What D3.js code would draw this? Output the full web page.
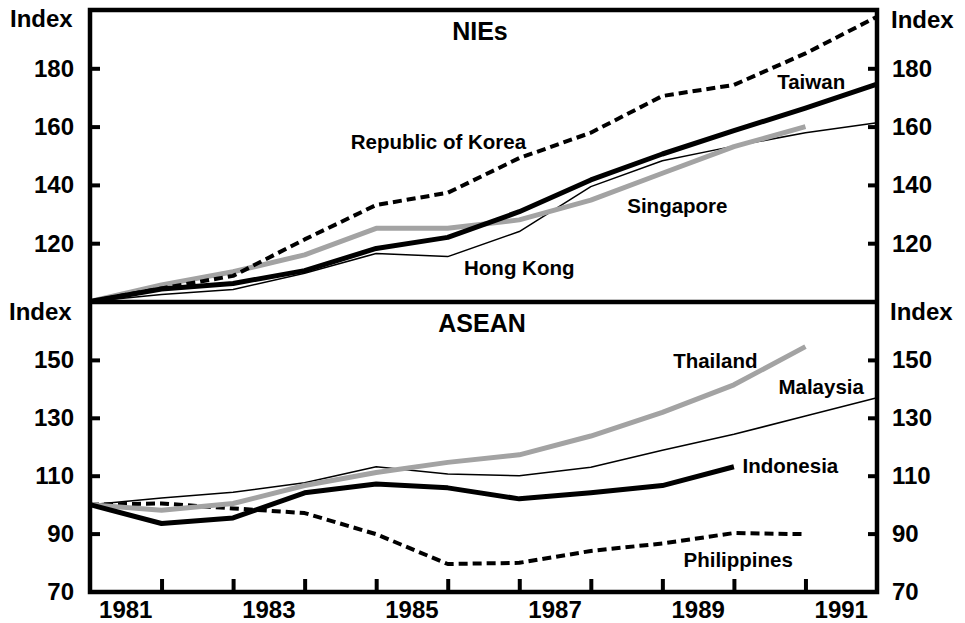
<!DOCTYPE html>
<html>
<head>
<meta charset="utf-8">
<script src="https://cdn.jsdelivr.net/npm/d3@7"></script>
<style>
  html, body { margin: 0; padding: 0; background: #fff; }
  svg { display: block; font-family: "Liberation Sans", Arial, Helvetica, sans-serif; font-weight: bold; }
</style>
</head>
<body>
<svg id="chart" width="965" height="623"></svg>
<script>
// ---- data ----
const years = [1980, 1981, 1982, 1983, 1984, 1985, 1986, 1987, 1988, 1989, 1990, 1991];
const yearLabels = [1981, 1983, 1985, 1987, 1989, 1991];

// NIEs
const korea     = [100, 104.5, 108.8, 121.3, 133.1, 137.3, 149.2, 157.9, 170.5, 174.3, 185.1, 197.7];
const taiwan    = [100, 104.3, 106.2, 110.6, 118.2, 122.0, 130.8, 141.7, 150.6, 158.6, 166.3, 174.6];
const singapore = [100, 105.7, 110.2, 116.0, 125.1, 125.1, 128.0, 134.8, 144.0, 153.1, 160.0];
const hongkong  = [100, 102.4, 104.1, 109.7, 116.5, 115.4, 124.0, 139.4, 148.3, 153.3, 157.9, 161.3];

// ASEAN
const indonesia   = [100, 93.5, 95.4, 104.1, 107.1, 105.8, 102.0, 104.1, 106.6, 113.1];
const malaysia    = [100, 102.3, 104.3, 107.6, 113.1, 110.6, 110.0, 112.9, 118.8, 124.3, 130.6, 136.9];
const thailand    = [100, 98.1, 100.4, 106.6, 111.1, 114.6, 117.2, 123.7, 131.9, 141.4, 154.6];
const philippines = [100, 100.4, 98.7, 97.1, 89.8, 79.5, 79.9, 84.0, 86.6, 90.2, 89.8];

const nieTicks = [120, 140, 160, 180];
const aseanTicks = [70, 90, 110, 130, 150];

// ---- layout ----
const svg = d3.select("#chart");
const pLeft = 90, pRight = 877, pTop = 10, pMid = 302, pBottom = 592;
const grey = "#a3a3a3";

const x = d3.scaleLinear().domain([1980, 1991]).range([pLeft, pRight]);
const yTop = d3.scaleLinear().domain([100, 200]).range([pMid - 0.5, pTop]);
const yBot = d3.scaleLinear().domain([70, 170]).range([pBottom - 0.5, pMid]);

const styles = {
  thick:  { stroke: "#000", width: 5, dash: null },
  grey:   { stroke: grey, width: 5, dash: null },
  thin:   { stroke: "#000", width: 1.5, dash: null },
  dashed: { stroke: "#000", width: 4, dash: "9,5" }
};

function drawSeries(values, yScale, st) {
  const pts = values.map((v, i) => [years[i], v]);
  const line = d3.line().x(d => x(d[0])).y(d => yScale(d[1]));
  svg.append("path")
    .attr("d", line(pts))
    .attr("fill", "none")
    .attr("stroke", st.stroke)
    .attr("stroke-width", st.width)
    .attr("stroke-linejoin", "round")
    .attr("stroke-dasharray", st.dash);
}

// upper panel
drawSeries(hongkong, yTop, styles.thin);
drawSeries(singapore, yTop, styles.grey);
drawSeries(taiwan, yTop, styles.thick);
drawSeries(korea, yTop, styles.dashed);

// lower panel
drawSeries(malaysia, yBot, styles.thin);
drawSeries(philippines, yBot, styles.dashed);
drawSeries(thailand, yBot, styles.grey);
drawSeries(indonesia, yBot, styles.thick);

// ---- axes ----
function yAxes(yScale, ticks) {
  const inner = ticks.filter(t => t > yScale.domain()[0]);
  const gl = svg.append("g").attr("transform", `translate(${pLeft},0)`)
    .call(d3.axisRight(yScale).tickValues(inner).tickSize(10).tickFormat(""));
  const gr = svg.append("g").attr("transform", `translate(${pRight},0)`)
    .call(d3.axisLeft(yScale).tickValues(inner).tickSize(9).tickFormat(""));
  [gl, gr].forEach(g => {
    g.select(".domain").remove();
    g.selectAll("line").attr("stroke", "#000").attr("stroke-width", 4);
  });
  ticks.forEach(t => {
    svg.append("text").attr("x", pLeft - 16).attr("y", yScale(t) + 8.5)
      .attr("text-anchor", "end").attr("font-size", 24).text(t);
    svg.append("text").attr("x", pRight + 15).attr("y", yScale(t) + 8.5)
      .attr("text-anchor", "start").attr("font-size", 24).text(t);
  });
}
yAxes(yTop, nieTicks);
yAxes(yBot, aseanTicks);

// bottom x ticks (inside)
const gx = svg.append("g").attr("transform", `translate(0,${pBottom})`)
  .call(d3.axisTop(x).tickValues(years.slice(1, 11)).tickSize(13).tickFormat(""));
gx.select(".domain").remove();
gx.selectAll("line").attr("stroke", "#000").attr("stroke-width", 4);

yearLabels.forEach(yr => {
  svg.append("text").attr("x", x(yr - 0.5)).attr("y", 618)
    .attr("text-anchor", "middle").attr("font-size", 24).text(yr);
});

// frame
svg.append("rect").attr("x", pLeft).attr("y", pTop).attr("width", pRight - pLeft).attr("height", pBottom - pTop)
  .attr("fill", "none").attr("stroke", "#000").attr("stroke-width", 4.5);
svg.append("line").attr("x1", pLeft).attr("x2", pRight).attr("y1", pMid).attr("y2", pMid)
  .attr("stroke", "#000").attr("stroke-width", 4.5);

// Index labels
svg.append("text").attr("x", 10).attr("y", 27).attr("font-size", 24).text("Index");
svg.append("text").attr("x", 9).attr("y", 320).attr("font-size", 24).text("Index");
svg.append("text").attr("x", 891).attr("y", 28).attr("font-size", 24).text("Index");
svg.append("text").attr("x", 890).attr("y", 320).attr("font-size", 24).text("Index");

// panel titles
svg.append("text").attr("x", x(1985.45)).attr("y", yTop(189.7)).attr("text-anchor", "middle").attr("font-size", 25).text("NIEs");
svg.append("text").attr("x", x(1985.48)).attr("y", yBot(159.5)).attr("text-anchor", "middle").attr("font-size", 25).text("ASEAN");

// series labels (anchored in data units)
const labels = [
  ["Republic of Korea", 1984.87, 152.3, yTop],
  ["Taiwan", 1990.08, 172.9, yTop],
  ["Singapore", 1988.21, 130.4, yTop],
  ["Hong Kong", 1986.0, 109.1, yTop],
  ["Thailand", 1988.74, 147.1, yBot],
  ["Malaysia", 1990.22, 138.1, yBot],
  ["Indonesia", 1989.79, 110.9, yBot],
  ["Philippines", 1989.06, 78.4, yBot]
];
labels.forEach(([t, yr, v, ys]) => {
  svg.append("text").attr("x", x(yr)).attr("y", ys(v)).attr("text-anchor", "middle")
    .attr("font-size", 20.5).text(t);
});
</script>
</body>
</html>
